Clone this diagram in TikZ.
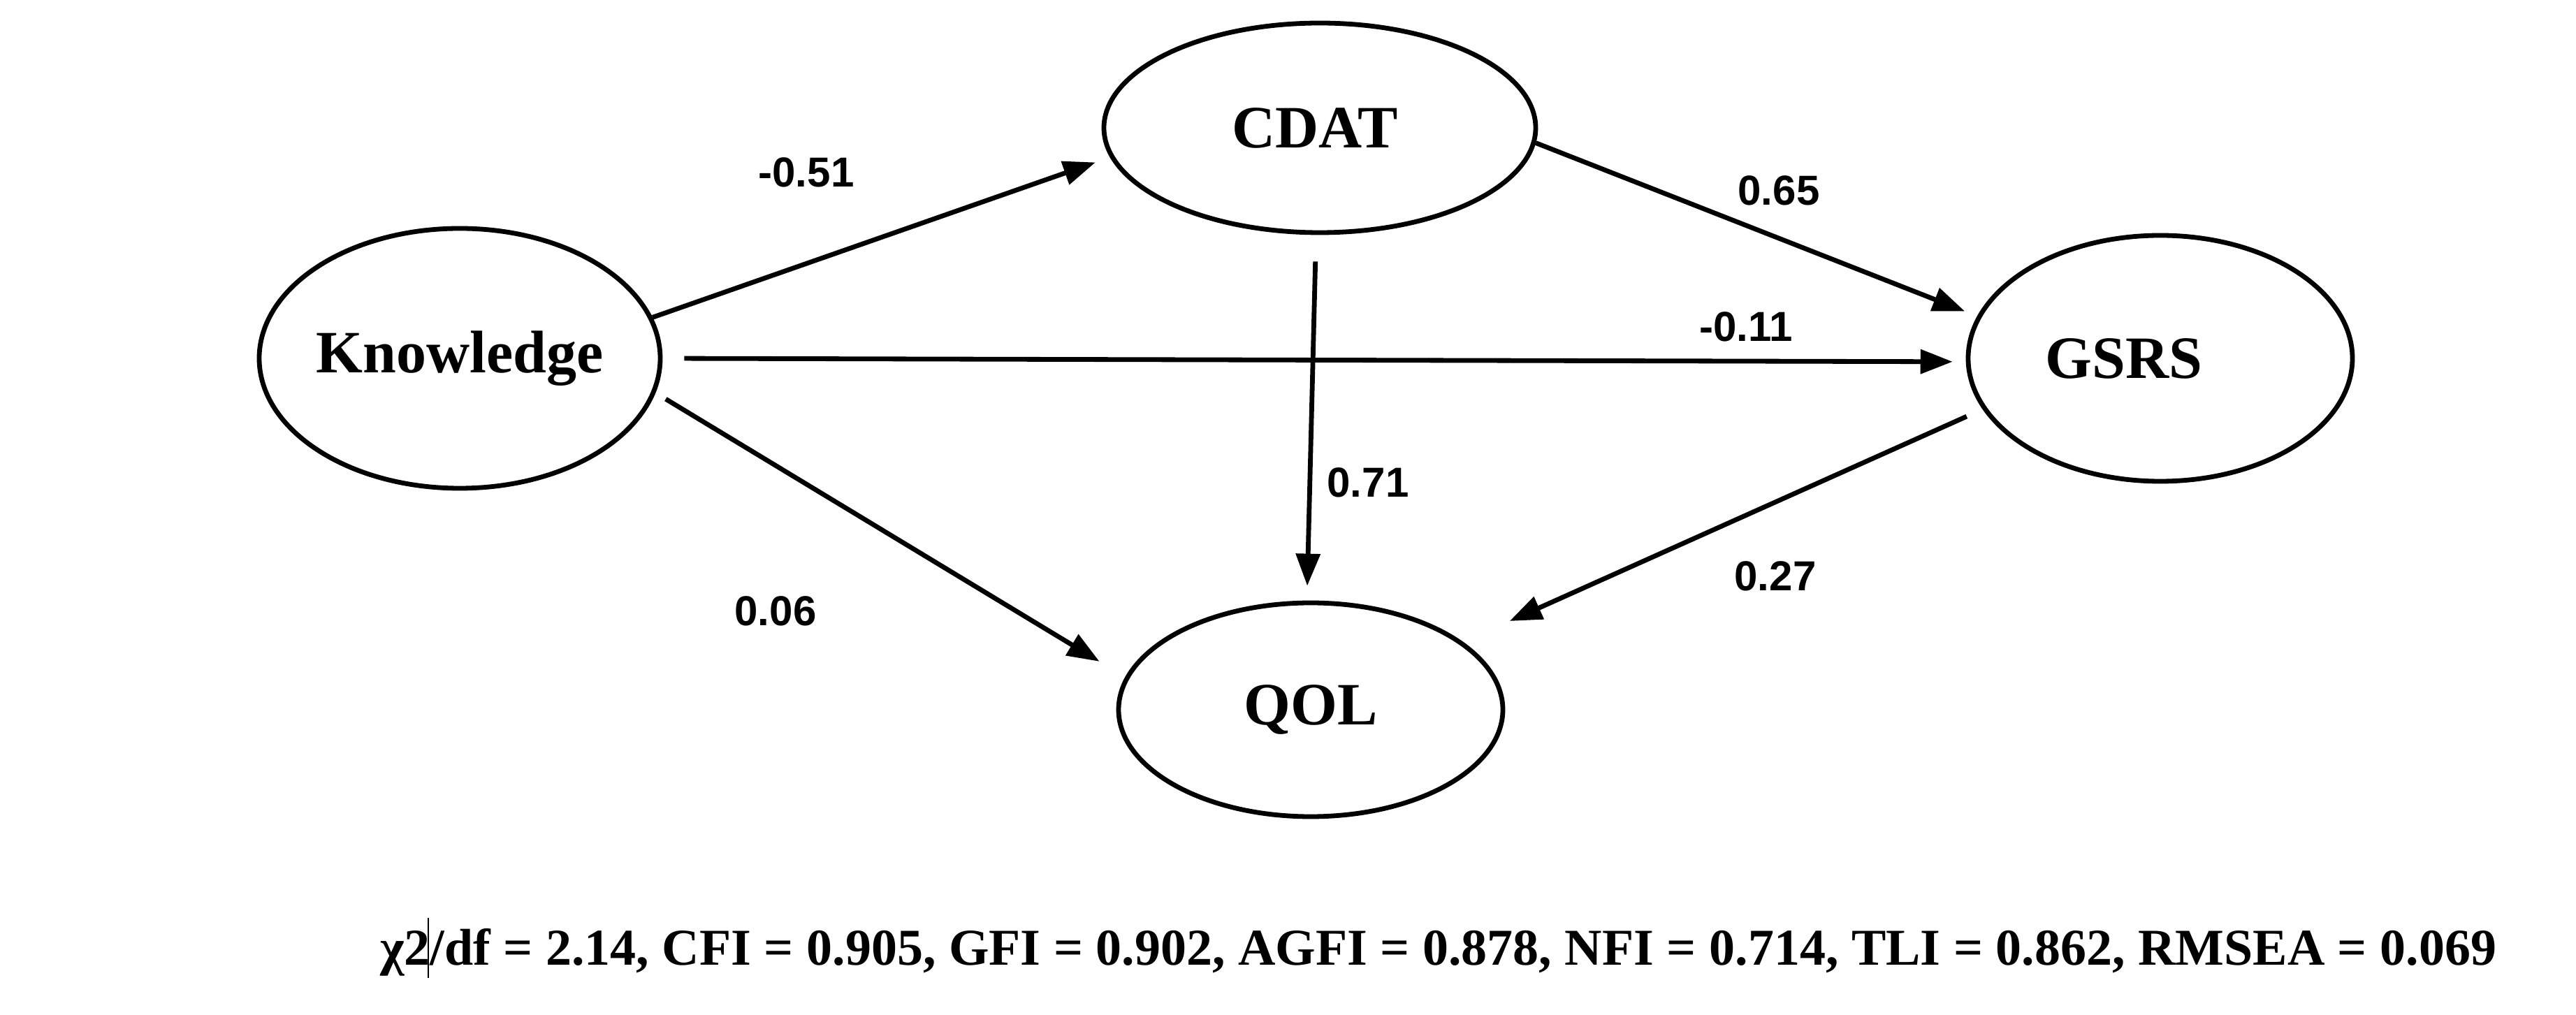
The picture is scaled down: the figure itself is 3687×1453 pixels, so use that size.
\documentclass[tikz,border=0pt]{standalone}
\usepackage{fontspec}
\setmainfont{Liberation Serif}
\newfontfamily\labfont{Liberation Sans}
\usetikzlibrary{shapes.geometric,arrows.meta}
\begin{document}
\begin{tikzpicture}[x=0.25pt,y=-0.25pt,
  latent/.style={draw, ellipse, line width=1.7pt, inner sep=0pt},
  vname/.style={font=\fontsize{21.5}{25}\selectfont\bfseries, inner sep=0pt},
  coef/.style={font=\labfont\fontsize{15}{18}\selectfont\bfseries, inner sep=0pt},
  fitline/.style={font=\fontsize{18.5}{22}\selectfont\bfseries, inner sep=0pt},
  pathar/.style={line width=1.7pt, -{Triangle[length=11.5pt,width=8.5pt]}}]
\useasboundingbox (0,0) rectangle (3687,1453);
% latent variables
\node[latent, minimum width=143.5pt, minimum height=93pt] (know) at (658,513) {};
\node[latent, minimum width=154.5pt, minimum height=75pt] (cdat) at (1889,183) {};
\node[latent, minimum width=137.5pt, minimum height=88pt] (gsrs) at (3092,513) {};
\node[latent, minimum width=137.5pt, minimum height=76.5pt] (qol) at (1876,1016) {};
\node[vname] (knowT) at (658,513) {Knowledge};
\node[vname] (cdatT) at (1882,183) {CDAT};
\node[vname] (gsrsT) at (3040,513) {GSRS};
\node[vname] (qolT) at (1876,1016) {QOL};
% paths
\draw[pathar, shorten >=5.5pt] (know.12) -- (cdat.188);
\draw[pathar, shorten <=7.75pt, shorten >=4.75pt] (know.0) -- (gsrs.181);
\draw[pathar, shorten <=4.25pt, shorten >=10.75pt] (know.-10) -- (qol.170);
\draw[pathar, shorten >=4.75pt] (cdat.-4) -- (gsrs.167);
\draw[pathar, shorten <=9.5pt, shorten >=5.25pt] (cdat.-92) -- (qol.92);
\draw[pathar, shorten <=6.25pt, shorten >=18.25pt] (gsrs.196) -- (qol.24);
% coefficients
\node[coef] (c1) at (1154,247) {-0.51};
\node[coef] (c2) at (2546,273) {0.65};
\node[coef] (c3) at (2499,468) {-0.11};
\node[coef] (c4) at (1958,691) {0.71};
\node[coef] (c5) at (1110,875) {0.06};
\node[coef] (c6) at (2541,825) {0.27};
% fit indices
\node[fitline] (fit) at (2059,1357) {χ2\rlap{\kern-0.05em\rule[-0.25em]{0.4pt}{1.15em}}/df = 2.14, CFI = 0.905, GFI = 0.902, AGFI = 0.878, NFI = 0.714, TLI = 0.862, RMSEA = 0.069};
\end{tikzpicture}
\end{document}
